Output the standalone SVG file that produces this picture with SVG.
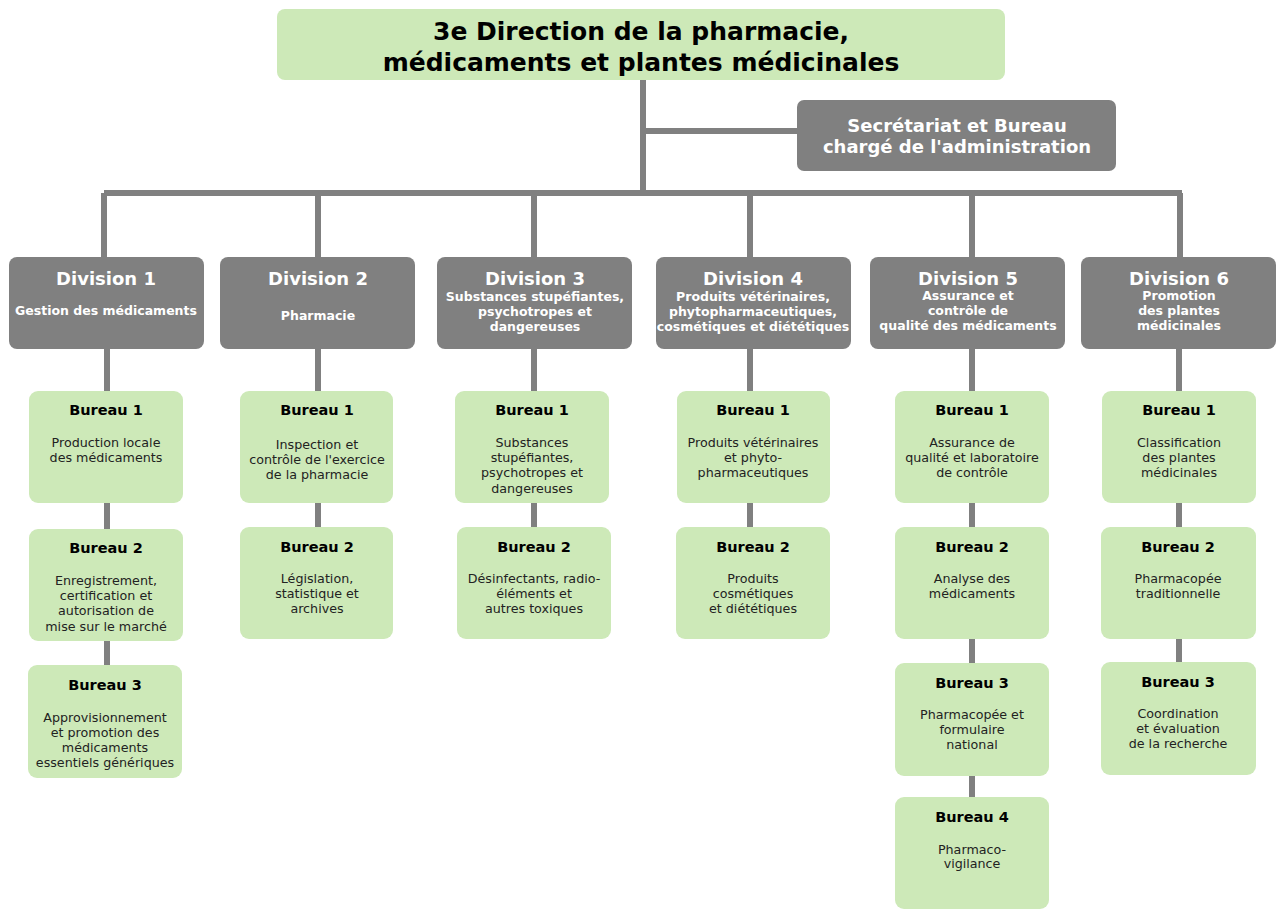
<svg xmlns="http://www.w3.org/2000/svg" width="1279" height="909" viewBox="0 0 1279 909">
<style>
.g{fill:#cde9b8}
.d{fill:#808080}
.ln{stroke:#808080;stroke-width:6;fill:none}
text{font-family:"DejaVu Sans",Verdana,sans-serif;text-anchor:middle}
.tt{font-size:25px;font-weight:bold;fill:#000}
.st{font-size:18px;font-weight:bold;fill:#fff}
.dt{font-size:18px;font-weight:bold;fill:#fff}
.ds{font-size:12.5px;font-weight:bold;fill:#fff}
.bt{font-size:14.5px;font-weight:bold;fill:#000}
.bb{font-size:12.7px;fill:#222}
</style>
<rect width="1279" height="909" fill="#fff"/>
<g id="connectors" class="ln">
<path d="M643 80V193M643 131H800M104 193H1182M104 193V260M318 193V260M534 193V260M750 193V260M972 193V260M1180 193V260"/>
<path d="M107 349V394M107 503V532M107 641V668"/>
<path d="M318 349V394M318 503V530"/>
<path d="M534 349V394M534 503V530"/>
<path d="M750 349V394M750 503V530"/>
<path d="M972 349V394M972 503V530M972 639V666M972 776V800"/>
<path d="M1179 349V394M1179 503V530M1179 639V665"/>
</g>
<g id="direction"><rect class="g" x="277" y="9" width="728" height="71" rx="8"/>
<text class="tt" x="641" y="40">3e Direction de la pharmacie,</text>
<text class="tt" x="641" y="71">médicaments et plantes médicinales</text></g>
<g id="secretariat"><rect class="d" x="797" y="100" width="319" height="71" rx="7"/>
<text class="st" x="957" y="132">Secrétariat et Bureau</text>
<text class="st" x="957" y="153">chargé de l'administration</text></g>

<g id="div1"><rect class="d" x="9" y="257" width="195" height="92" rx="8"/>
<text class="dt" x="106" y="285">Division 1</text>
<text class="ds" x="106" y="315">Gestion des médicaments</text></g>
<g id="div2"><rect class="d" x="220" y="257" width="195" height="92" rx="8"/>
<text class="dt" x="318" y="285">Division 2</text>
<text class="ds" x="318" y="320">Pharmacie</text></g>
<g id="div3"><rect class="d" x="437" y="257" width="195" height="92" rx="8"/>
<text class="dt" x="535" y="285">Division 3</text>
<text class="ds" x="535" y="301">Substances stupéfiantes,</text>
<text class="ds" x="535" y="316">psychotropes et</text>
<text class="ds" x="535" y="331">dangereuses</text></g>
<g id="div4"><rect class="d" x="656" y="257" width="195" height="92" rx="8"/>
<text class="dt" x="753" y="285">Division 4</text>
<text class="ds" x="753" y="301">Produits vétérinaires,</text>
<text class="ds" x="753" y="316">phytopharmaceutiques,</text>
<text class="ds" x="753" y="331">cosmétiques et diététiques</text></g>
<g id="div5"><rect class="d" x="870" y="257" width="195" height="92" rx="8"/>
<text class="dt" x="968" y="285">Division 5</text>
<text class="ds" x="968" y="300">Assurance et</text>
<text class="ds" x="968" y="315">contrôle de</text>
<text class="ds" x="968" y="330">qualité des médicaments</text></g>
<g id="div6"><rect class="d" x="1081" y="257" width="195" height="92" rx="8"/>
<text class="dt" x="1179" y="285">Division 6</text>
<text class="ds" x="1179" y="300">Promotion</text>
<text class="ds" x="1179" y="315">des plantes</text>
<text class="ds" x="1179" y="330">médicinales</text></g>

<g id="d1b1"><rect class="g" x="29" y="391" width="154" height="112" rx="9"/>
<text class="bt" x="106" y="415">Bureau 1</text>
<text class="bb" x="106" y="447">Production locale</text>
<text class="bb" x="106" y="462">des médicaments</text></g>
<g id="d1b2"><rect class="g" x="29" y="529" width="154" height="112" rx="9"/>
<text class="bt" x="106" y="553">Bureau 2</text>
<text class="bb" x="106" y="585">Enregistrement,</text>
<text class="bb" x="106" y="600">certification et</text>
<text class="bb" x="106" y="615">autorisation de</text>
<text class="bb" x="106" y="631">mise sur le marché</text></g>
<g id="d1b3"><rect class="g" x="28" y="665" width="154" height="113" rx="9"/>
<text class="bt" x="105" y="690">Bureau 3</text>
<text class="bb" x="105" y="722">Approvisionnement</text>
<text class="bb" x="105" y="737">et promotion des</text>
<text class="bb" x="105" y="752">médicaments</text>
<text class="bb" x="105" y="767">essentiels génériques</text></g>

<g id="d2b1"><rect class="g" x="240" y="391" width="153" height="112" rx="9"/>
<text class="bt" x="317" y="415">Bureau 1</text>
<text class="bb" x="317" y="449">Inspection et</text>
<text class="bb" x="317" y="464">contrôle de l'exercice</text>
<text class="bb" x="317" y="479">de la pharmacie</text></g>
<g id="d2b2"><rect class="g" x="240" y="527" width="153" height="112" rx="9"/>
<text class="bt" x="317" y="552">Bureau 2</text>
<text class="bb" x="317" y="583">Législation,</text>
<text class="bb" x="317" y="598">statistique et</text>
<text class="bb" x="317" y="613">archives</text></g>

<g id="d3b1"><rect class="g" x="455" y="391" width="154" height="112" rx="9"/>
<text class="bt" x="532" y="415">Bureau 1</text>
<text class="bb" x="532" y="447">Substances</text>
<text class="bb" x="532" y="462">stupéfiantes,</text>
<text class="bb" x="532" y="477">psychotropes et</text>
<text class="bb" x="532" y="493">dangereuses</text></g>
<g id="d3b2"><rect class="g" x="457" y="527" width="154" height="112" rx="9"/>
<text class="bt" x="534" y="552">Bureau 2</text>
<text class="bb" x="534" y="583">Désinfectants, radio-</text>
<text class="bb" x="534" y="598">éléments et</text>
<text class="bb" x="534" y="613">autres toxiques</text></g>

<g id="d4b1"><rect class="g" x="677" y="391" width="153" height="112" rx="9"/>
<text class="bt" x="753" y="415">Bureau 1</text>
<text class="bb" x="753" y="447">Produits vétérinaires</text>
<text class="bb" x="753" y="462">et phyto-</text>
<text class="bb" x="753" y="477">pharmaceutiques</text></g>
<g id="d4b2"><rect class="g" x="676" y="527" width="154" height="112" rx="9"/>
<text class="bt" x="753" y="552">Bureau 2</text>
<text class="bb" x="753" y="583">Produits</text>
<text class="bb" x="753" y="598">cosmétiques</text>
<text class="bb" x="753" y="613">et diététiques</text></g>

<g id="d5b1"><rect class="g" x="895" y="391" width="154" height="112" rx="9"/>
<text class="bt" x="972" y="415">Bureau 1</text>
<text class="bb" x="972" y="447">Assurance de</text>
<text class="bb" x="972" y="462">qualité et laboratoire</text>
<text class="bb" x="972" y="477">de contrôle</text></g>
<g id="d5b2"><rect class="g" x="895" y="527" width="154" height="112" rx="9"/>
<text class="bt" x="972" y="552">Bureau 2</text>
<text class="bb" x="972" y="583">Analyse des</text>
<text class="bb" x="972" y="598">médicaments</text></g>
<g id="d5b3"><rect class="g" x="895" y="663" width="154" height="113" rx="9"/>
<text class="bt" x="972" y="688">Bureau 3</text>
<text class="bb" x="972" y="719">Pharmacopée et</text>
<text class="bb" x="972" y="734">formulaire</text>
<text class="bb" x="972" y="749">national</text></g>
<g id="d5b4"><rect class="g" x="895" y="797" width="154" height="112" rx="9"/>
<text class="bt" x="972" y="822">Bureau 4</text>
<text class="bb" x="972" y="854">Pharmaco-</text>
<text class="bb" x="972" y="868">vigilance</text></g>

<g id="d6b1"><rect class="g" x="1102" y="391" width="154" height="112" rx="9"/>
<text class="bt" x="1179" y="415">Bureau 1</text>
<text class="bb" x="1179" y="447">Classification</text>
<text class="bb" x="1179" y="462">des plantes</text>
<text class="bb" x="1179" y="477">médicinales</text></g>
<g id="d6b2"><rect class="g" x="1101" y="527" width="155" height="112" rx="9"/>
<text class="bt" x="1178" y="552">Bureau 2</text>
<text class="bb" x="1178" y="583">Pharmacopée</text>
<text class="bb" x="1178" y="598">traditionnelle</text></g>
<g id="d6b3"><rect class="g" x="1101" y="662" width="155" height="113" rx="9"/>
<text class="bt" x="1178" y="687">Bureau 3</text>
<text class="bb" x="1178" y="718">Coordination</text>
<text class="bb" x="1178" y="733">et évaluation</text>
<text class="bb" x="1178" y="748">de la recherche</text></g>
</svg>
